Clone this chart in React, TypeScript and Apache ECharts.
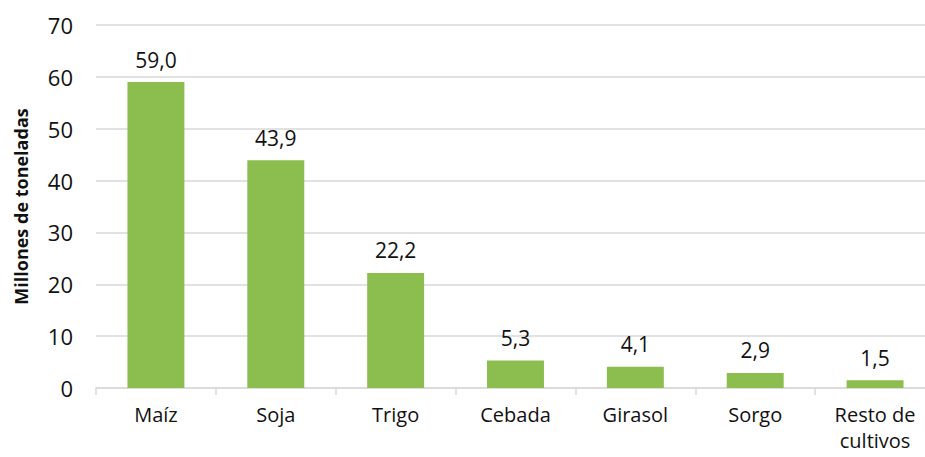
import React, { useEffect, useRef } from "react";
import * as echarts from "echarts";

const categories = ["Maíz", "Soja", "Trigo", "Cebada", "Girasol", "Sorgo", "Resto de\ncultivos"];
const values = [59.0, 43.9, 22.2, 5.3, 4.1, 2.9, 1.5];
const yAxisTitle = "Millones de toneladas";

export default function App() {
  const ref = useRef<HTMLDivElement>(null);
  useEffect(() => {
    const chart = echarts.init(ref.current!, null, { renderer: "svg" });
    const font = "'Open Sans', 'Noto Sans', sans-serif";
    chart.setOption({
      animation: false,
      grid: { left: 96, top: 25, bottom: 69, width: 839, outerBoundsMode: "none", containLabel: false },
      xAxis: {
        type: "category",
        data: categories,
        axisLine: { lineStyle: { color: "#d9d9d9", width: 1.5 } },
        axisTick: { show: true, length: 7, lineStyle: { color: "#d9d9d9", width: 1.5 } },
        axisLabel: { color: "#111", fontSize: 20, fontFamily: font, margin: 13, lineHeight: 26, interval: 0 },
      },
      yAxis: {
        type: "value",
        min: 0,
        max: 70,
        interval: 10,
        name: yAxisTitle,
        nameLocation: "middle",
        nameGap: 66,
        nameTextStyle: { color: "#111", fontSize: 18, fontWeight: "bold", fontFamily: font },
        axisLine: { show: false },
        axisTick: { show: false },
        axisLabel: { color: "#111", fontSize: 22, fontFamily: font, margin: 23 },
        splitLine: { lineStyle: { color: "#d9d9d9", width: 1.5 } },
      },
      series: [
        {
          type: "bar",
          data: values,
          barWidth: "47.5%",
          itemStyle: { color: "#8cbd4f" },
          label: {
            show: true,
            position: "top",
            distance: 12,
            color: "#111",
            fontSize: 21,
            fontFamily: font,
            formatter: (p: any) => p.value.toFixed(1).replace(".", ","),
          },
        },
      ],
    });
    return () => chart.dispose();
  }, []);
  return <div ref={ref} style={{ width: 925, height: 457, position: "absolute", left: 0, top: 0 }} />;
}
